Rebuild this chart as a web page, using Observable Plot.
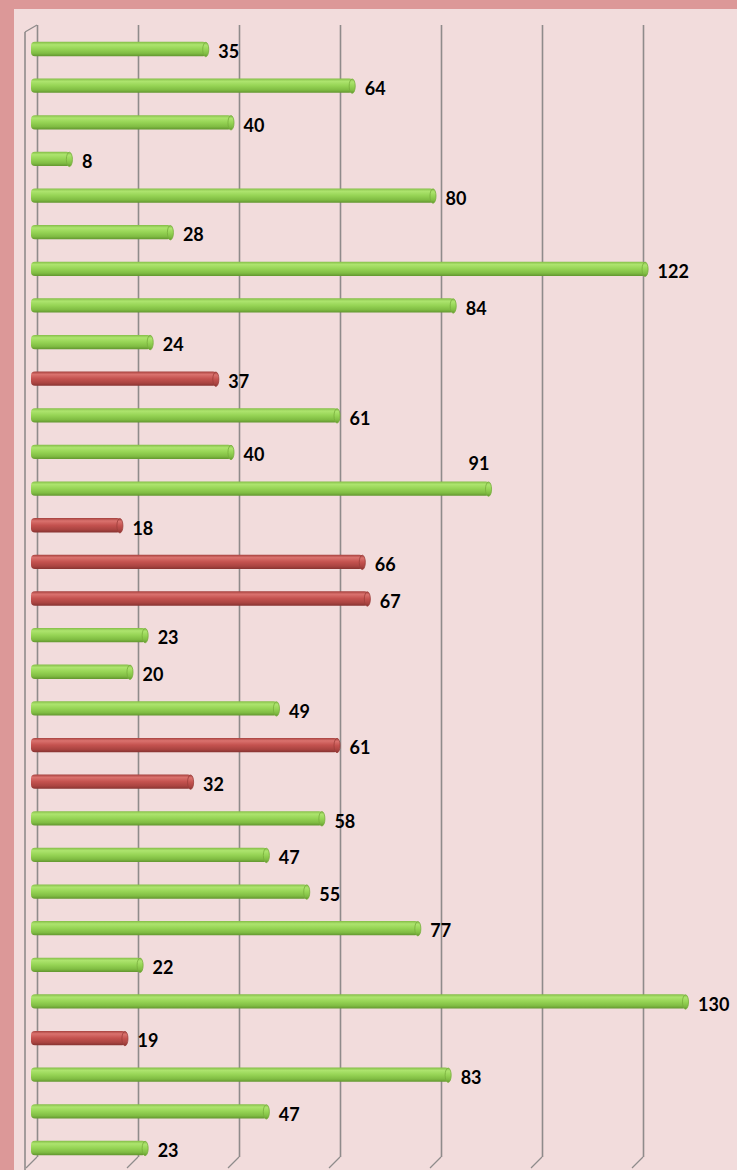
<!DOCTYPE html>
<html>
<head>
<meta charset="utf-8">
<script src="https://cdn.jsdelivr.net/npm/d3@7"></script>
<script src="https://cdn.jsdelivr.net/npm/@observablehq/plot@0.6"></script>
<style>
  html, body { margin: 0; padding: 0; background: #dc9898; }
  #chart { position: absolute; left: 0; top: 0; width: 737px; height: 1170px; }
</style>
</head>
<body>
<div id="chart"></div>
<script>
// ---- data ----
const categories = Array.from({length: 31}, (_, i) => `Item ${i + 1}`);
const values = [35, 64, 40, 8, 80, 28, 122, 84, 24, 37, 61, 40, 91, 18, 66, 67, 23, 20, 49, 61, 32, 58, 47, 55, 77, 22, 130, 19, 83, 47, 23];
const series = ["G","G","G","G","G","G","G","G","G","R","G","G","G","R","R","R","G","G","G","R","R","G","G","G","G","G","G","R","G","G","G"];
const raisedLabels = ["Item 13"];
const xTicks = [0, 20, 40, 60, 80, 100, 120, 140];

const rows = categories.map((c, i) => ({cat: c, value: values[i], s: series[i]}));

const W = 737, H = 1170;
const BACK = 6, FRONT = -5, DEPTH_Y = 11;

// decoration: the 3-D floor diagonals and left wall
const walls = (index, scales, values, dims) => {
  const g = d3.create("svg:g");
  const top = dims.marginTop, bot = dims.height - dims.marginBottom;
  const x0 = scales.x(0);
  g.append("line").attr("x1", x0 + FRONT - 1).attr("x2", x0 + FRONT - 1)
    .attr("y1", top + 7).attr("y2", H).attr("stroke", "#8f8b8b").attr("stroke-width", 1.6);
  g.append("line").attr("x1", x0 + FRONT - 1).attr("y1", top + 7)
    .attr("x2", x0 + BACK).attr("y2", top).attr("stroke", "#8f8b8b").attr("stroke-width", 1.3);
  for (const t of xTicks) {
    const x = scales.x(t);
    if (x + BACK > W) continue;
    g.append("line").attr("x1", x + BACK).attr("y1", bot)
      .attr("x2", x + FRONT).attr("y2", bot + DEPTH_Y)
      .attr("stroke", "#8f8b8b").attr("stroke-width", 1.3);
  }
  return g.node();
};

const font = "Lato, 'Open Sans', sans-serif";

const plot = Plot.plot({
  width: W,
  height: H,
  marginTop: 25,
  marginBottom: 13,
  marginLeft: 31,
  marginRight: 0,
  style: {background: "transparent", overflow: "visible"},
  x: {domain: [0, 140], range: [31, 31 + 140 * 5.05], axis: null},
  y: {domain: categories, range: [30.7, 1166.3], paddingInner: 0.61, paddingOuter: 0.305, round: false, axis: null},
  color: {type: "ordinal", domain: ["G", "R"], range: ["url(#gGreen)", "url(#gRed)"]},
  marks: [
    Plot.ruleX(xTicks, {dx: BACK, stroke: "#8f8b8b", strokeWidth: 1.6}),
    walls,
    Plot.barX(rows, {x: "value", y: "cat", fill: "s", rx: 4, insetRight: 1}),
    Plot.dot(rows, {x: "value", y: "cat", r: 7.2, dx: -2.5, fill: "s",
      stroke: d => d.s === "G" ? "#77ad3c" : "#9c3d3a", strokeWidth: 0.8, className: "caps"}),
    Plot.text(rows.filter(d => !raisedLabels.includes(d.cat)), {x: "value", y: "cat", text: d => String(d.value),
      textAnchor: "start", dx: 10, dy: 3, fontSize: 18, fontWeight: "bold", fill: "#000", fontFamily: font}),
    Plot.text(rows.filter(d => raisedLabels.includes(d.cat)), {x: "value", y: "cat", text: d => String(d.value),
      textAnchor: "middle", dx: -12, dy: -25, fontSize: 18, fontWeight: "bold", fill: "#000", fontFamily: font})
  ]
});

// gradients
const defs = d3.select(plot).insert("defs", ":first-child");
function grad(id, stops) {
  const lg = defs.append("linearGradient").attr("id", id)
    .attr("x1", 0).attr("y1", 0).attr("x2", 0).attr("y2", 1);
  stops.forEach(([o, c]) => lg.append("stop").attr("offset", o).attr("stop-color", c));
}
grad("gGreen", [[0, "#84bd47"], [0.2, "#ade46e"], [0.5, "#96d455"], [0.8, "#80bc43"], [1, "#62962f"]]);
grad("gRed", [[0, "#a5403d"], [0.2, "#da726e"], [0.5, "#c4524f"], [0.8, "#aa4441"], [1, "#873331"]]);

// squash the end-cap dots into ellipses
d3.select(plot).selectAll("g.caps circle").each(function() {
  const c = d3.select(this);
  const r = +c.attr("r");
  d3.select(this.parentNode).insert("ellipse", () => this)
    .attr("cx", c.attr("cx")).attr("cy", c.attr("cy"))
    .attr("rx", r * 0.42).attr("ry", r)
    .attr("fill", c.attr("fill")).attr("stroke", c.attr("stroke"))
    .attr("transform", c.attr("transform"));
  c.remove();
});

const wrap = document.getElementById("chart");
const inner = document.createElement("div");
inner.style.cssText = "position:absolute;left:14px;top:9px;right:0;bottom:0;background:#f2dcdc;";
wrap.appendChild(inner);
plot.style.position = "absolute";
plot.style.left = "0";
plot.style.top = "0";
wrap.appendChild(plot);
</script>
</body>
</html>
